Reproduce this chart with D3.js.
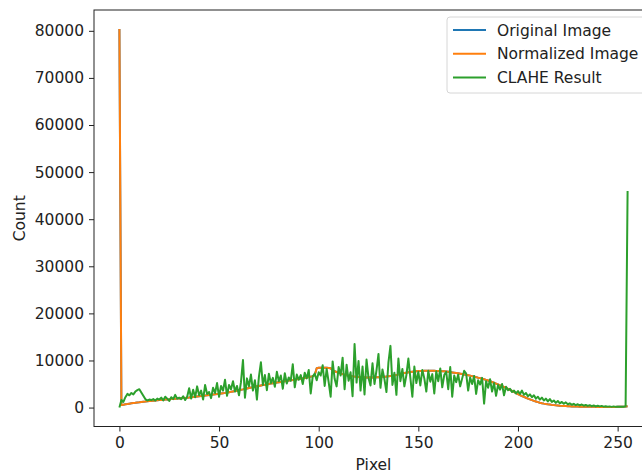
<!DOCTYPE html>
<html>
<head>
<meta charset="utf-8">
<script src="https://cdn.jsdelivr.net/npm/d3@7"></script>
<style>
  body { margin: 0; background: #fff; }
  text { font-family: "DejaVu Sans", sans-serif; }
</style>
</head>
<body>
<div id="chart"></div>
<script>
// histogram bins 0..255
var pixels = d3.range(256)

var normalizedCounts = [
  80400, 560, 620, 700, 760, 830, 900, 960, 1010, 1080,
  1120, 1180, 1230, 1270, 1330, 1380, 1420, 1470, 1510, 1540,
  1580, 1620, 1650, 1700, 1730, 1760, 1800, 1840, 1870, 1900,
  1940, 1980, 2010, 2050, 2100, 2140, 2190, 2230, 2280, 2330,
  2380, 2430, 2480, 2540, 2590, 2650, 2700, 2760, 2810, 2870,
  2920, 2990, 3060, 3120, 3190, 3270, 3340, 3420, 3500, 3590,
  3680, 3770, 3860, 3960, 4060, 4150, 4240, 4340, 4430, 4520,
  4600, 4690, 4780, 4850, 4930, 5010, 5090, 5160, 5230, 5310,
  5380, 5450, 5520, 5590, 5660, 5720, 5790, 5850, 5920, 5990,
  6060, 6130, 6210, 6300, 6390, 6480, 6570, 6660, 6900, 8350,
  8450, 8470, 8480, 8460, 8440, 8400, 8350, 7900, 7700, 7550,
  7400, 7250, 7100, 6980, 6870, 6780, 6700, 6630, 6570, 6530,
  6490, 6460, 6440, 6420, 6410, 6400, 6400, 6410, 6420, 6440,
  6460, 6490, 6520, 6560, 6600, 6650, 6700, 6760, 6830, 6900,
  7050, 7140, 7230, 7320, 7410, 7500, 7570, 7630, 7680, 7720,
  7750, 7770, 7790, 7800, 7810, 7810, 7810, 7800, 7800, 7790,
  7780, 7760, 7730, 7690, 7640, 7590, 7530, 7470, 7410, 7340,
  7270, 7200, 7120, 7040, 6960, 6870, 6780, 6680, 6580, 6470,
  6350, 6250, 6130, 6010, 5880, 5740, 5590, 5430, 5260, 5080,
  4900, 4720, 4540, 4360, 4170, 3970, 3760, 3540, 3310, 3080,
  2860, 2650, 2450, 2260, 2080, 1900, 1730, 1570, 1420, 1280,
  1150, 1030, 930, 840, 760, 690, 630, 570, 520, 470,
  430, 390, 360, 330, 310, 290, 270, 250, 240, 230,
  210, 200, 190, 180, 170, 165, 160, 155, 150, 150,
  145, 140, 140, 135, 135, 130, 130, 130, 135, 140,
  150, 160, 180, 200, 250, 300
]

// original image histogram sits exactly under the normalized one
var originalCounts = normalizedCounts

var claheCounts = [
  0, 1600, 1200, 2200, 2900, 2600, 3100, 2800, 3400, 3700,
  3900, 3200, 2500, 1800, 1500, 1700, 1600, 1800, 1500, 1900,
  1700, 2100, 1500, 2300, 1900, 1400, 2200, 1800, 2700, 1900,
  2100, 1800, 2400, 1600, 2300, 4100, 1900, 3800, 2200, 4500,
  2600, 3600, 1700, 4800, 2900, 3300, 2000, 4200, 3100, 5200,
  2300, 4600, 3600, 5900, 2500, 4800, 3900, 5600, 3400, 4600,
  2600, 5400, 10100, 2100, 6200, 4500, 7000, 3600, 5800, 1700,
  6500, 9600, 4800, 6900, 3700, 7200, 5200, 6300, 4400, 7600,
  5600, 6800, 4000, 7300, 5100, 6400, 5700, 9200, 4300, 7000,
  5900, 6900, 5000, 7400, 6200, 8000, 3000, 6600, 7200, 5800,
  7500, 6800, 9000, 4600, 8200, 5400, 2300, 9800, 6100, 4500,
  8600, 6800, 10600, 3900, 9100, 5700, 7500, 2400, 13500, 5300,
  9900, 3600, 8700, 2800, 10200, 6300, 4700, 9400, 5000, 7900,
  11400, 4200, 8100, 6000, 3300, 9600, 13100, 4800, 7400, 2700,
  10400, 5600, 8200, 4500, 6900, 10400, 6300, 2300, 8700, 5200,
  7600, 4700, 8000, 6200, 3400, 7800, 5500, 7100, 3000, 7700,
  5600, 8300, 4300, 6900, 7600, 3900, 8600, 2300, 6800, 5400,
  7000, 4500, 6200, 7800, 7200, 3600, 6400, 5000, 6700, 2900,
  5800, 4900, 6300, 850, 5600, 4200, 6000, 3400, 5200, 2500,
  4800, 3800, 5000, 2600, 4400, 3700, 4000, 3300, 3600, 3000,
  3500, 2900, 3600, 2700, 3100, 2400, 2800, 2200, 2600, 1900,
  2300, 1700, 2100, 1500, 1900, 1300, 1800, 1200, 1500, 1000,
  1400, 900, 1200, 800, 1100, 700, 900, 600, 800, 500,
  700, 450, 650, 400, 550, 350, 500, 300, 450, 250,
  400, 250, 350, 200, 300, 200, 250, 150, 250, 150,
  200, 150, 200, 150, 250, 46000
]

var seriesNames = ["Original Image", "Normalized Image", "CLAHE Result"]
var seriesColors = ["#1f77b4", "#ff7f0e", "#2ca02c"]
var xTicks = [0, 50, 100, 150, 200, 250]
var yTicks = [0, 10000, 20000, 30000, 40000, 50000, 60000, 70000, 80000]

var W = 642, H = 474
var plot = {left: 94, top: 10, right: 653, bottom: 426.5}
var fontSize = "15.5px"

var svg = d3.select("#chart").append("svg")
    .attr("width", W)
    .attr("height", H)

var x = d3.scaleLinear()
    .domain([-12.75, 267.75])
    .range([plot.left, plot.right])
var y = d3.scaleLinear()
    .domain([-4020, 84420])
    .range([plot.bottom, plot.top])

var line = d3.line()
    .x((d, i) => x(pixels[i]))
    .y(d => y(d))

var allSeries = [originalCounts, normalizedCounts, claheCounts]
allSeries.forEach((s, i) => {
    svg.append("path")
        .datum(s)
        .attr("d", line)
        .attr("fill", "none")
        .attr("stroke", seriesColors[i])
        .attr("stroke-width", 2)
        .attr("stroke-linejoin", "round")
})

// axes
var xAxis = svg.append("g")
    .attr("transform", `translate(0,${plot.bottom})`)
    .call(d3.axisBottom(x).tickValues(xTicks).tickSize(5).tickPadding(5).tickFormat(d3.format("d")))
var yAxis = svg.append("g")
    .attr("transform", `translate(${plot.left},0)`)
    .call(d3.axisLeft(y).tickValues(yTicks).tickSize(5).tickPadding(5).tickFormat(d3.format("d")))
;[xAxis, yAxis].forEach(a => {
    a.select(".domain").remove()
    a.selectAll("line").attr("stroke", "#222")
    a.selectAll("text").attr("fill", "#222").style("font-size", fontSize).style("font-family", "DejaVu Sans")
})

// frame
svg.append("rect")
    .attr("x", plot.left)
    .attr("y", plot.top)
    .attr("width", plot.right - plot.left)
    .attr("height", plot.bottom - plot.top)
    .attr("fill", "none")
    .attr("stroke", "#222")
    .attr("stroke-width", 1)

svg.append("text")
    .attr("x", (plot.left + plot.right) / 2)
    .attr("y", 470)
    .attr("text-anchor", "middle")
    .attr("fill", "#222")
    .style("font-size", fontSize)
    .text("Pixel")

svg.append("text")
    .attr("transform", `translate(25,${(plot.top + plot.bottom) / 2}) rotate(-90)`)
    .attr("text-anchor", "middle")
    .attr("fill", "#222")
    .style("font-size", fontSize)
    .text("Count")

// legend
var legend = svg.append("g")
legend.append("rect")
    .attr("x", 447)
    .attr("y", 17)
    .attr("width", 199)
    .attr("height", 76)
    .attr("rx", 3)
    .attr("fill", "#fff")
    .attr("fill-opacity", 0.8)
    .attr("stroke", "#d6d6d6")
seriesNames.forEach((name, i) => {
    var cy = 30 + i * 23.7
    legend.append("line")
        .attr("x1", 453).attr("x2", 486)
        .attr("y1", cy).attr("y2", cy)
        .attr("stroke", seriesColors[i])
        .attr("stroke-width", 2)
    legend.append("text")
        .attr("x", 497)
        .attr("y", cy + 5.5)
        .attr("fill", "#222")
        .style("font-size", fontSize)
        .text(name)
})
</script>
</body>
</html>
